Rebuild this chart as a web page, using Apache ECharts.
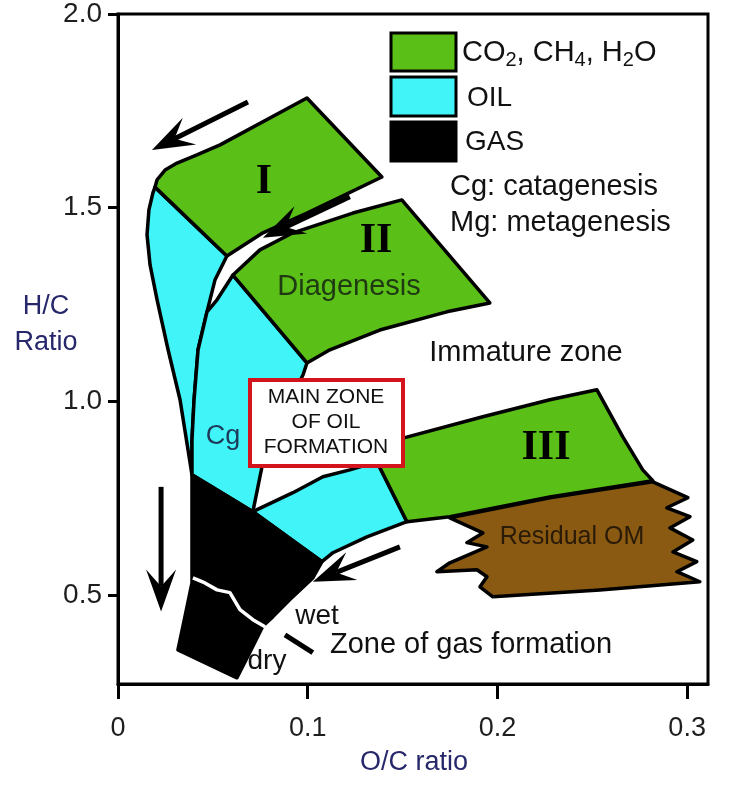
<!DOCTYPE html>
<html><head><meta charset="utf-8">
<script src="https://cdn.jsdelivr.net/npm/echarts@6/dist/echarts.min.js"></script>
<style>html,body{margin:0;padding:0;background:#fff}#c{width:735px;height:786px}</style>
</head><body><div id="c"></div>
<script>
// ---- data (O/C, H/C) ----
const xTicks = [0, 0.1, 0.2, 0.3];
const yTicks = [0.5, 1.0, 1.5, 2.0];

const typeIGreen = [[0.0195,1.553],[0.0206,1.572],[0.0248,1.597],[0.0311,1.615],[0.0416,1.636],[0.0538,1.662],[0.0996,1.783],[0.1391,1.579],[0.0996,1.486],[0.0764,1.435],[0.0574,1.375]];
const typeIOil = [[0.0195,1.553],[0.0574,1.375],[0.0511,1.313],[0.0469,1.231],[0.0422,1.133],[0.0401,1.004],[0.0390,0.900],[0.0390,0.810],[0.0369,0.875],[0.0327,1.004],[0.0264,1.133],[0.0206,1.262],[0.0169,1.352],[0.0153,1.430],[0.0163,1.494],[0.0184,1.538]];
const typeIIGreen = [[0.0606,1.326],[0.0748,1.391],[0.0922,1.435],[0.1238,1.486],[0.1496,1.520],[0.1960,1.254],[0.1733,1.231],[0.1380,1.184],[0.1117,1.133],[0.0996,1.099]];
const typeIIOil = [[0.0606,1.326],[0.0522,1.262],[0.0469,1.231],[0.0422,1.133],[0.0401,1.004],[0.0390,0.900],[0.0390,0.810],[0.0711,0.715],[0.0759,0.831],[0.0854,0.952],[0.0975,1.068],[0.0996,1.099]];
const gasZone = [[0.0390,0.810],[0.0711,0.715],[0.1075,0.586],[0.1027,0.544],[0.0906,0.488],[0.0817,0.444],[0.0764,0.420],[0.0696,0.353],[0.0627,0.286],[0.0316,0.358],[0.0353,0.444],[0.0390,0.531]];
const typeIIIOil = [[0.0711,0.715],[0.0922,0.764],[0.1080,0.805],[0.1222,0.823],[0.1365,0.844],[0.1523,0.689],[0.1312,0.650],[0.1133,0.609],[0.1075,0.586]];
const typeIIIGreen = [[0.1354,0.870],[0.1502,0.905],[0.1923,0.960],[0.2276,1.004],[0.2524,1.030],[0.2661,0.908],[0.2766,0.823],[0.2819,0.795],[0.2276,0.753],[0.1749,0.702],[0.1523,0.689],[0.1365,0.844]];
const residualOM = [[0.2819,0.792],[0.2276,0.751],[0.1749,0.699],[0.1923,0.660],[0.1839,0.635],[0.1945,0.624],[0.1749,0.583],[0.1681,0.560],[0.1892,0.565],[0.1945,0.547],[0.1908,0.521],[0.1976,0.495],[0.2540,0.513],[0.3067,0.534],[0.2946,0.560],[0.3051,0.586],[0.2925,0.611],[0.3030,0.642],[0.2909,0.673],[0.3015,0.702],[0.2893,0.725],[0.3004,0.751]];
const wetDryCrack = [[0.0395,0.544],[0.0458,0.531],[0.0522,0.513],[0.0590,0.506],[0.0643,0.462],[0.0711,0.436],[0.0775,0.418]];
const arrows = [[0.0685,1.773,0.0179,1.649],[0.1222,1.528,0.0764,1.422],[0.1486,0.624,0.1027,0.534],[0.0227,0.779,0.0227,0.457]];
const gasPointer = [[0.0880,0.397],[0.1027,0.351]];

// ---- styles ----
const GREEN = '#5abf16', CYAN = '#40f4f8', BLACK = '#000', BROWN = '#8a5a12';
const SANS = '"Liberation Sans", Arial, sans-serif';
const SERIF = '"Liberation Serif", "Times New Roman", serif';

function polySeries(pts, fill, z) {
  return {
    type: 'custom', data: pts, silent: true, clip: false, z: z,
    renderItem: function (params, api) {
      if (params.dataIndex !== 0) return null;
      return { type: 'polygon', shape: { points: pts.map(p => api.coord(p)) },
        style: { fill: fill, stroke: '#000', lineWidth: 3.5, lineJoin: 'round' } };
    }
  };
}

const chart = echarts.init(document.getElementById('c'), null, { renderer: 'canvas' });
const fmt = v => (v === 0 ? '0' : v.toFixed(1));

function txt(t, x, y, size, color, extra) {
  return Object.assign({ type: 'text', z: 101, x: x, y: y,
    style: Object.assign({ text: t, fontSize: size, fontFamily: SANS, fill: color, align: 'center', verticalAlign: 'middle' }, extra || {}) });
}

chart.setOption({
  animation: false,
  backgroundColor: '#fff',
  grid: { left: 118, right: 27, top: 14, bottom: 102, show: true, borderColor: '#000', borderWidth: 3 },
  xAxis: {
    type: 'value', min: 0, max: 0.311,
    axisLine: { lineStyle: { color: '#000', width: 3 } },
    axisTick: { customValues: xTicks, length: 15, lineStyle: { color: '#000', width: 3 } },
    axisLabel: { customValues: xTicks, formatter: fmt, fontSize: 27, fontFamily: SANS, color: '#1e1e1e', margin: 31 },
    splitLine: { show: false }
  },
  yAxis: {
    type: 'value', min: 0.27, max: 2.0,
    axisLine: { show: true, lineStyle: { color: '#000', width: 3 } },
    axisTick: { show: true, customValues: yTicks, length: 10, lineStyle: { color: '#000', width: 3 } },
    axisLabel: { customValues: yTicks, formatter: fmt, fontSize: 28, fontFamily: SANS, color: '#1e1e1e', margin: 16 },
    splitLine: { show: false }
  },
  series: [
    polySeries(typeIOil, CYAN, 2),
    polySeries(typeIIOil, CYAN, 2),
    polySeries(typeIIIOil, CYAN, 2),
    polySeries(gasZone, BLACK, 2),
    polySeries(residualOM, BROWN, 3),
    polySeries(typeIGreen, GREEN, 4),
    polySeries(typeIIGreen, GREEN, 4),
    polySeries(typeIIIGreen, GREEN, 4),
    { type: 'line', data: wetDryCrack, symbol: 'none', silent: true, z: 5,
      lineStyle: { color: '#fff', width: 3.5 } },
    { type: 'line', data: gasPointer, symbol: 'none', silent: true, z: 5,
      lineStyle: { color: '#000', width: 5 } },
    {
      type: 'custom', data: arrows, silent: true, clip: false, z: 6,
      encode: { x: [0, 2], y: [1, 3] },
      renderItem: function (params, api) {
        const a = api.coord([api.value(0), api.value(1)]);
        const b = api.coord([api.value(2), api.value(3)]);
        const dx = b[0] - a[0], dy = b[1] - a[1];
        const len = Math.sqrt(dx * dx + dy * dy);
        const ux = dx / len, uy = dy / len, nx = -uy, ny = ux;
        const L = 42, W = 15, N = 0.6 * L;
        const head = [
          b,
          [b[0] - ux * L + nx * W, b[1] - uy * L + ny * W],
          [b[0] - ux * N, b[1] - uy * N],
          [b[0] - ux * L - nx * W, b[1] - uy * L - ny * W]
        ];
        return { type: 'group', children: [
          { type: 'line', shape: { x1: a[0], y1: a[1], x2: b[0] - ux * N, y2: b[1] - uy * N }, style: { stroke: '#000', lineWidth: 5 } },
          { type: 'polygon', shape: { points: head }, style: { fill: '#000' } }
        ] };
      }
    }
  ],
  graphic: [
    // legend
    { type: 'rect', z: 100, shape: { x: 391, y: 33, width: 65, height: 38 }, style: { fill: GREEN, stroke: '#000', lineWidth: 3 } },
    { type: 'rect', z: 100, shape: { x: 391, y: 77, width: 65, height: 39 }, style: { fill: CYAN, stroke: '#000', lineWidth: 3 } },
    { type: 'rect', z: 100, shape: { x: 391, y: 122, width: 65, height: 39 }, style: { fill: '#000', stroke: '#000', lineWidth: 3 } },
    { type: 'text', z: 101, x: 462, y: 53, style: { text: 'CO{s|2}, CH{s|4}, H{s|2}O', fontSize: 29, fontFamily: SANS, fill: '#111', verticalAlign: 'middle',
        rich: { s: { fontSize: 20, fontFamily: SANS, fill: '#111', padding: [15, 0, 0, 0] } } } },
    txt('OIL', 467, 98, 28, '#111', { align: 'left' }),
    txt('GAS', 465, 142, 28, '#111', { align: 'left' }),
    txt('Cg: catagenesis', 450, 187, 29, '#111', { align: 'left' }),
    txt('Mg: metagenesis', 450, 223, 29, '#111', { align: 'left' }),
    // region labels
    txt('I', 264, 182, 42, '#000', { fontFamily: SERIF, fontWeight: 'bold' }),
    txt('II', 376, 241, 42, '#000', { fontFamily: SERIF, fontWeight: 'bold' }),
    txt('III', 546, 448, 42, '#000', { fontFamily: SERIF, fontWeight: 'bold' }),
    txt('Diagenesis', 349, 287, 29, '#1f3a12'),
    txt('Immature zone', 526, 353, 29, '#111'),
    txt('Cg', 223, 437, 27, '#1d3a58'),
    { type: 'rect', z: 100, shape: { x: 250, y: 380, width: 153, height: 86 }, style: { fill: '#fff', stroke: '#d4141c', lineWidth: 4 } },
    txt('MAIN ZONE\nOF OIL\nFORMATION', 326, 422, 21, '#111', { lineHeight: 25 }),
    txt('Residual OM', 572, 537, 25, '#2a1a08'),
    txt('wet', 317, 616, 28, '#111'),
    txt('dry', 267, 661, 28, '#111'),
    txt('Zone of gas formation', 471, 645, 29, '#111'),
    // axis titles
    txt('H/C\nRatio', 46, 325, 27, '#27276b', { lineHeight: 36 }),
    txt('O/C ratio', 414, 763, 27, '#27276b')
  ]
});
</script></body></html>
